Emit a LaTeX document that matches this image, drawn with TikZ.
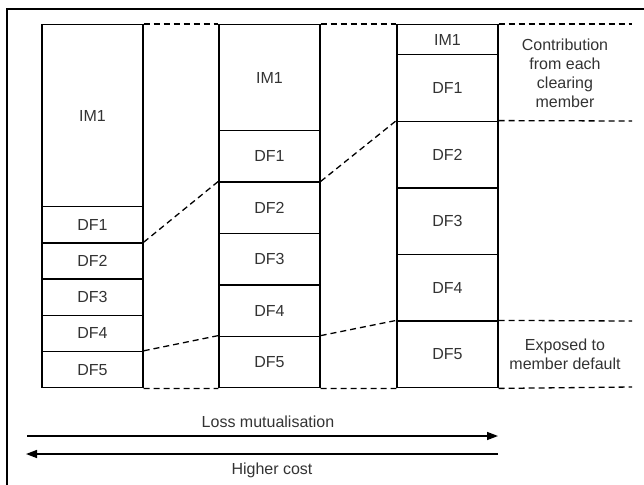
\documentclass[tikz,border=0pt]{standalone}
\usepackage{fontspec}
\setmainfont{Liberation Sans}
\usetikzlibrary{positioning,arrows.meta}

\begin{document}
\begin{tikzpicture}[
    x=1pt, y=-1pt,
    cell/.style={rectangle, draw, line width=1.4pt, minimum width=101pt, inner sep=0pt, anchor=north, text=black!80, font=\fontsize{16}{19}\selectfont},
    level/.style={line width=1.3pt, dash pattern=on 6pt off 4pt},
    note/.style={align=center, text=black!80, font=\fontsize{16}{19}\selectfont},
    flow/.style={-{Triangle[length=11pt,width=8pt]}, line width=1.4pt}
]
\useasboundingbox (0,0) rectangle (644,484);
% frame (cut off at right and bottom)
\draw[line width=2pt] (7,500) -- (7,9) -- (660,9);

% Column 1
\node[cell, minimum height=182pt] (a0) at (92.5,24) {IM1};
\foreach \i in {1,...,5}
  \node[cell, minimum height=36.2pt] (a\i) at (92.5,{206+36.2*(\i-1)}) {DF\i};

% Column 2
\node[cell, minimum height=106pt] (b0) at (269.5,24) {IM1};
\foreach \i in {1,...,5}
  \node[cell, minimum height=51.4pt] (b\i) at (269.5,{130+51.4*(\i-1)}) {DF\i};

% Column 3
\node[cell, minimum height=30pt] (c0) at (447.5,24) {IM1};
\foreach \i in {1,...,5}
  \node[cell, minimum height=66.6pt] (c\i) at (447.5,{54+66.6*(\i-1)}) {DF\i};

% Dashed levels
\coordinate (etop) at (632,24);
\coordinate (edf) at (632,121);
\coordinate (edef) at (632,321);
\coordinate (ebot) at (632,387);
\draw[level] (a0.north east) -- (b0.north west) (b0.north east) -- (c0.north west) (c0.north east) -- (etop);
\draw[level] (a5.south east) -- (b5.south west) (b5.south east) -- (c5.south west) (c5.south east) -- (ebot);
\draw[level] (a2.north east) -- (b2.north west) (b2.north east) -- (c2.north west) (c2.north east) -- (edf);
\draw[level] (a5.north east) -- (b5.north west) (b5.north east) -- (c5.north west) (c5.north east) -- (edef);

% Labels
\node[note] (contrib) at (565,73) {Contribution\\from each\\clearing\\member};
\node[note] (exposed) at (565,354) {Exposed to\\member default};

% Arrows
\coordinate (l1) at (27,436);
\coordinate (r1) at (498,436);
\coordinate (l2) at (26,454);
\coordinate (r2) at (498,454);
\draw[flow] (l1) -- (r1);
\draw[flow] (r2) -- (l2);
\node[note] (loss) at (268,422) {Loss mutualisation};
\node[note] (cost) at (272,470) {Higher cost};

\end{tikzpicture}
\end{document}
